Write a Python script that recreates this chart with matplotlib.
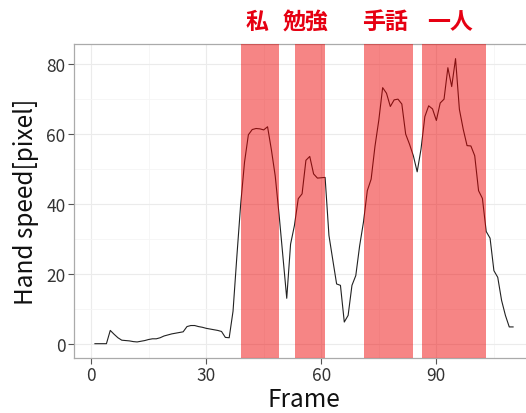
import matplotlib
matplotlib.use("Agg")
import matplotlib.pyplot as plt
import matplotlib.transforms as mtransforms
from matplotlib.ticker import MultipleLocator

plt.rcParams['font.family'] = ['Noto Sans CJK JP', 'DejaVu Sans']

# hand speed per frame
frames = list(range(1, 111))
speed = [0, 0, 0, 0, 3.8, 2.7, 1.7, 1.0, 0.9, 0.8,
         0.6, 0.5, 0.7, 0.9, 1.2, 1.4, 1.4, 1.7, 2.2, 2.5,
         2.8, 3.0, 3.2, 3.4, 4.9, 5.2, 5.2, 4.9, 4.7, 4.4,
         4.2, 4.0, 3.8, 3.5, 1.8, 1.7, 9.3, 25, 40, 52,
         59.8, 61.3, 61.6, 61.5, 61.2, 62.1, 55.5, 48, 37, 25,
         13, 28.5, 33.8, 41.5, 42.9, 52.5, 53.6, 48.6, 47.4, 47.5,
         47.6, 31, 24, 17.1, 16.7, 6.2, 8.1, 16.7, 19.5, 28,
         34.8, 43.8, 47.1, 56.5, 64, 73.3, 71.7, 67.9, 69.8, 70,
         68.6, 60, 57.1, 53.8, 49.2, 55.7, 65.0, 68.1, 67.2, 63.9,
         68.9, 70, 79, 73.6, 81.6, 67.1, 61.4, 56.7, 56.6, 53.8,
         43.8, 41.6, 32.1, 30.2, 20.9, 19, 12.4, 8.1, 4.8, 4.8]

# sign intervals (start frame, end frame) and their words
band_start = [39.1, 53.1, 71.2, 86.2]
band_end = [49.0, 61.1, 84.0, 103.0]
words = ['私', '勉強', '手話', '一人']
word_x = [43.2, 56.0, 76.5, 93.5]

fig = plt.figure(figsize=(5.26, 4.14), dpi=100)
ax = fig.add_axes([0.1407, 0.1329, 0.8745, 0.7585])

ax.plot(frames, speed, color='#222222', lw=0.8, zorder=2)
for s, e in zip(band_start, band_end):
    ax.axvspan(s, e, color='#EE0000', alpha=0.48, lw=0, zorder=3)

ax.set_xlim(-4.45, 115.45)
ax.set_ylim(-4.09, 85.8)
ax.xaxis.set_major_locator(MultipleLocator(30))
ax.xaxis.set_minor_locator(MultipleLocator(15))
ax.yaxis.set_major_locator(MultipleLocator(20))
ax.yaxis.set_minor_locator(MultipleLocator(10))
ax.grid(which='major', color='#EBEBEB', lw=0.8, zorder=0)
ax.grid(which='minor', color='#F5F5F5', lw=0.6, zorder=0)
ax.set_axisbelow(True)

for sp in ax.spines.values():
    sp.set_color('#AAAAAA')
    sp.set_linewidth(0.9)
ax.spines['right'].set_visible(False)

ax.tick_params(which='major', length=4, width=0.8, color='#555555',
               labelsize=12.5, labelcolor='#333333', pad=2)
ax.tick_params(which='minor', length=0)

ax.set_xlabel('Frame', fontsize=17.5, color='#111111', labelpad=1)
ax.set_ylabel('Hand speed[pixel]', fontsize=17.5, color='#111111', labelpad=5)

trans = mtransforms.blended_transform_factory(ax.transData, fig.transFigure)
for w, x in zip(words, word_x):
    ax.text(x, 0.945, w, transform=trans, ha='center', va='center',
            fontsize=16.5, fontweight='bold', color='#E60012', clip_on=False)

fig.savefig('out.png', dpi=100)
